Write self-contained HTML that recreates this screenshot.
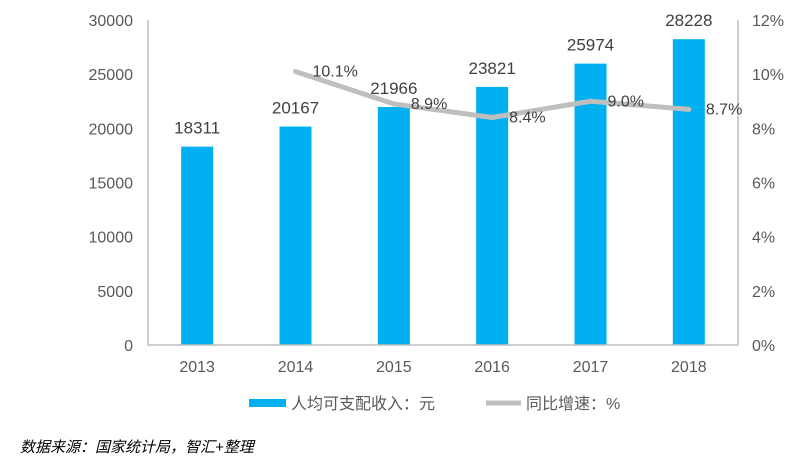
<!DOCTYPE html>
<html><head><meta charset="utf-8">
<style>
html,body{margin:0;padding:0;background:#fff;}
body{width:802px;height:462px;overflow:hidden;font-family:"Liberation Sans","Noto Sans CJK SC",sans-serif;}
</style></head>
<body>
<svg id="chart" width="802" height="462" xmlns="http://www.w3.org/2000/svg" font-family="'Liberation Sans','Noto Sans CJK SC',sans-serif"></svg>
<script>
const categories = ["2013","2014","2015","2016","2017","2018"];
const incomeValues = [18311,20167,21966,23821,25974,28228];
const growthCats = ["2014","2015","2016","2017","2018"];
const growthValues = [10.1,8.9,8.4,9.0,8.7];
const leftTicks = [0,5000,10000,15000,20000,25000,30000];
const rightTicks = [0,2,4,6,8,10,12];

const svg = document.getElementById('chart');
const NS = 'http://www.w3.org/2000/svg';
const L = 148, R = 738, T = 20, B = 345;
const step = (R - L) / categories.length;
const xC = i => L + step * (i + 0.5);
const yL = v => B - v / 30000 * (B - T);
const yR = v => B - v / 12 * (B - T);
function mk(tag, attrs, parent){const e=document.createElementNS(NS,tag);for(const k in attrs)e.setAttribute(k,attrs[k]);(parent||svg).appendChild(e);return e;}

leftTicks.forEach(v=>{
  const t = mk('text',{x:133,y:yL(v)+6,'text-anchor':'end','font-size':16,fill:'#595959'});
  
  
  t.textContent = v;
});
rightTicks.forEach(v=>{
  const t = mk('text',{x:752,y:yR(v)+6,'text-anchor':'start','font-size':16,fill:'#595959'});
  
  
  t.textContent = v + '%';
});

incomeValues.forEach((v,i)=>{
  const r = mk('rect',{x:xC(i)-16,y:yL(v),width:32,height:B-yL(v),fill:'#00b0f0'});
  
  
  const t = mk('text',{x:xC(i),y:yL(v)-13,'text-anchor':'middle','font-size':17,fill:'#404040'});
  
  
  t.textContent = v;
  const c = mk('text',{x:xC(i),y:372,'text-anchor':'middle','font-size':16,fill:'#595959'});
  
  
  c.textContent = categories[i];
});

const axes = mk('path',{d:`M${L} ${T} V${B} H${R} V${T}`,stroke:'#bfbfbf','stroke-width':1.5,fill:'none'});



const pts = growthValues.map((v,j)=>[xC(categories.indexOf(growthCats[j])), yR(v)]);
const line = mk('polyline',{points:pts.map(p=>p.join(',')).join(' '),stroke:'#bfbfbf','stroke-width':5,fill:'none','stroke-linejoin':'round','stroke-linecap':'round'});


growthValues.forEach((v,j)=>{
  const t = mk('text',{x:pts[j][0]+17,y:pts[j][1]+5,'text-anchor':'start','font-size':16,fill:'#404040'});
  
  
  t.textContent = v.toFixed(1) + '%';
});

const lg = mk('g',{});


const lr = mk('rect',{x:249,y:399,width:37,height:8,fill:'#00b0f0'},lg);


const lt1 = mk('text',{x:291,y:409,'font-size':16,fill:'#595959'},lg);


lt1.textContent='人均可支配收入：元';
const ll = mk('line',{x1:486,y1:403,x2:521,y2:403,stroke:'#bfbfbf','stroke-width':5},lg);


const lt2 = mk('text',{x:526,y:409,'font-size':16,fill:'#595959'},lg);


lt2.textContent='同比增速：%';

const src = mk('text',{x:20,y:452,'font-size':15,fill:'#000','font-style':'italic'});


src.textContent='数据来源：国家统计局，智汇+整理';
</script>
</body></html>
